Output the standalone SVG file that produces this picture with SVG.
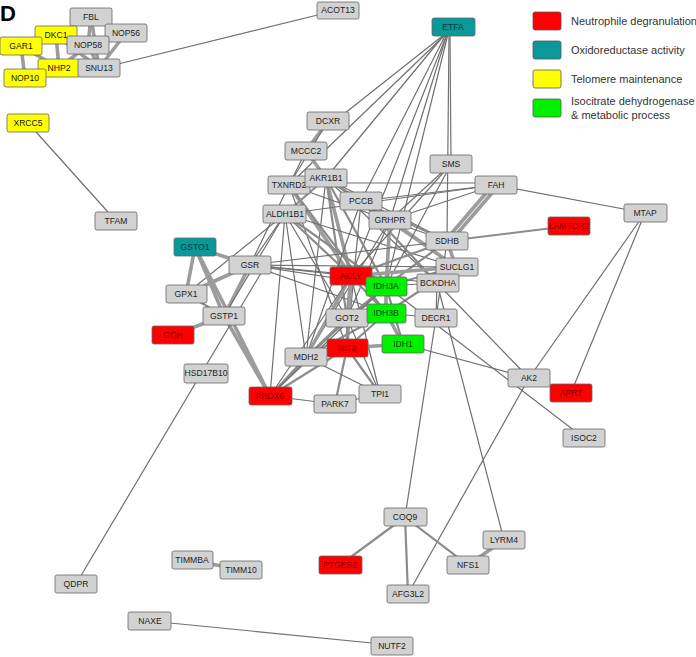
<svg xmlns="http://www.w3.org/2000/svg" width="696" height="657" viewBox="0 0 696 657">
<style>
.e line{stroke-linecap:round}
.n{stroke:#707070;stroke-width:1.2}
.m{stroke:#8c8c8c;stroke-width:2.2}
.t{stroke:#9c9c9c;stroke-width:3.6}
.node rect{stroke:#666;stroke-width:0.8}
.node text{font-family:"Liberation Sans",Arial,sans-serif;font-size:8.6px;text-anchor:middle}
.g rect{fill:#d2d2d2}.g text{fill:#222}
.r rect{fill:#ff0000}.r text{fill:#7a0000}
.c rect{fill:#0a9898}.c text{fill:#053b3b}
.y rect{fill:#ffff00}.y text{fill:#111}
.gr rect{fill:#00f000}.gr text{fill:#064006}
.lg text{font-family:"Liberation Sans",Arial,sans-serif;font-size:11px;fill:#333}
.lg rect{stroke:#555;stroke-width:0.8}
</style>
<rect width="696" height="657" fill="#fff"/>
<text x="0" y="21" font-family="Liberation Sans,Arial,sans-serif" font-size="22" font-weight="bold" fill="#000">D</text>
<g id="edges" class="e">
<!-- top-left cluster -->
<line class="t" x1="21" y1="46" x2="25" y2="78"/>
<line class="t" x1="21" y1="46" x2="56" y2="35"/>
<line class="t" x1="21" y1="46" x2="59" y2="68"/>
<line class="t" x1="56" y1="35" x2="88" y2="45"/>
<line class="t" x1="56" y1="35" x2="91" y2="17"/>
<line class="t" x1="56" y1="35" x2="59" y2="68"/>
<line class="t" x1="56" y1="35" x2="99" y2="68"/>
<line class="t" x1="91" y1="17" x2="88" y2="45"/>
<line class="t" x1="91" y1="17" x2="99" y2="68"/>
<line class="t" x1="91" y1="17" x2="126" y2="33"/>
<line class="t" x1="126" y1="33" x2="99" y2="68"/>
<line class="t" x1="88" y1="45" x2="99" y2="68"/>
<line class="t" x1="59" y1="68" x2="25" y2="78"/>
<line class="t" x1="59" y1="68" x2="99" y2="68"/>
<line class="t" x1="88" y1="45" x2="59" y2="68"/>
<line class="n" x1="110" y1="66" x2="338" y2="10"/>
<line class="n" x1="28" y1="123" x2="116" y2="221"/>
<!-- ETFA -->
<line class="n" x1="445" y1="34" x2="335" y2="121"/>
<line class="n" x1="445" y1="34" x2="326" y2="178"/>
<line class="n" x1="446" y1="34" x2="289" y2="185"/>
<line class="n" x1="446" y1="34" x2="361" y2="201"/>
<line class="n" x1="447" y1="34" x2="390" y2="220"/>
<line class="n" x1="447" y1="34" x2="351" y2="276"/>
<line class="n" x1="448" y1="34" x2="386" y2="286"/>
<line class="n" x1="449" y1="34" x2="447" y2="241"/>
<line class="n" x1="450" y1="34" x2="451" y2="164"/>
<!-- upper central -->
<line class="t" x1="328" y1="121" x2="306" y2="151"/>
<line class="n" x1="328" y1="121" x2="289" y2="185"/>
<line class="t" x1="306" y1="151" x2="326" y2="178"/>
<line class="n" x1="306" y1="151" x2="289" y2="185"/>
<line class="m" x1="326" y1="178" x2="289" y2="185"/>
<line class="n" x1="326" y1="183" x2="495" y2="183"/>
<line class="m" x1="326" y1="178" x2="361" y2="201"/>
<line class="m" x1="326" y1="178" x2="285" y2="214"/>
<line class="n" x1="326" y1="178" x2="447" y2="241"/>
<line class="m" x1="326" y1="178" x2="456" y2="267"/>
<line class="t" x1="326" y1="178" x2="351" y2="276"/>
<line class="m" x1="326" y1="178" x2="386" y2="286"/>
<line class="n" x1="326" y1="178" x2="437" y2="283"/>
<line class="n" x1="326" y1="178" x2="306" y2="357"/>
<line class="m" x1="326" y1="178" x2="347" y2="318"/>
<line class="n" x1="289" y1="185" x2="250" y2="265"/>
<line class="t" x1="289" y1="185" x2="351" y2="276"/>
<line class="m" x1="289" y1="185" x2="386" y2="313"/>
<line class="n" x1="289" y1="185" x2="447" y2="241"/>
<line class="n" x1="289" y1="185" x2="347" y2="348"/>
<line class="n" x1="285" y1="214" x2="186" y2="294"/>
<line class="n" x1="285" y1="214" x2="495" y2="185"/>
<line class="m" x1="285" y1="214" x2="351" y2="276"/>
<line class="m" x1="285" y1="214" x2="386" y2="286"/>
<line class="n" x1="285" y1="214" x2="270" y2="396"/>
<line class="n" x1="285" y1="214" x2="306" y2="357"/>
<line class="n" x1="285" y1="214" x2="347" y2="318"/>
<line class="n" x1="285" y1="214" x2="456" y2="267"/>
<line class="n" x1="361" y1="201" x2="495" y2="185"/>
<line class="m" x1="361" y1="201" x2="447" y2="241"/>
<line class="n" x1="361" y1="201" x2="456" y2="267"/>
<line class="m" x1="361" y1="201" x2="437" y2="283"/>
<line class="n" x1="361" y1="201" x2="306" y2="357"/>
<line class="n" x1="361" y1="201" x2="347" y2="348"/>
<line class="n" x1="390" y1="220" x2="451" y2="164"/>
<line class="n" x1="390" y1="220" x2="495" y2="185"/>
<line class="t" x1="390" y1="220" x2="386" y2="286"/>
<line class="t" x1="390" y1="220" x2="456" y2="267"/>
<line class="n" x1="390" y1="220" x2="347" y2="318"/>
<line class="n" x1="390" y1="220" x2="306" y2="357"/>
<line class="n" x1="451" y1="164" x2="386" y2="286"/>
<line class="n" x1="451" y1="164" x2="351" y2="276"/>
<line class="t" x1="493" y1="185" x2="445" y2="241"/>
<line class="t" x1="498" y1="186" x2="450" y2="242"/>
<line class="n" x1="495" y1="185" x2="645" y2="213"/>
<line class="m" x1="447" y1="241" x2="569" y2="226"/>
<line class="t" x1="447" y1="241" x2="456" y2="267"/>
<line class="n" x1="447" y1="241" x2="250" y2="265"/>
<line class="m" x1="447" y1="241" x2="351" y2="276"/>
<line class="m" x1="447" y1="241" x2="386" y2="286"/>
<line class="n" x1="447" y1="241" x2="436" y2="318"/>
<line class="t" x1="456" y1="267" x2="351" y2="276"/>
<line class="n" x1="456" y1="267" x2="250" y2="265"/>
<line class="m" x1="456" y1="267" x2="386" y2="286"/>
<line class="m" x1="456" y1="267" x2="386" y2="313"/>
<line class="m" x1="456" y1="267" x2="437" y2="283"/>
<!-- left group -->
<line class="t" x1="195" y1="247" x2="250" y2="265"/>
<line class="t" x1="195" y1="247" x2="186" y2="294"/>
<line class="t" x1="195" y1="247" x2="224" y2="316"/>
<line class="t" x1="195" y1="247" x2="270" y2="396"/>
<line class="t" x1="250" y1="265" x2="186" y2="294"/>
<line class="t" x1="250" y1="265" x2="224" y2="316"/>
<line class="n" x1="250" y1="265" x2="351" y2="276"/>
<line class="n" x1="250" y1="265" x2="386" y2="286"/>
<line class="n" x1="250" y1="265" x2="437" y2="283"/>
<line class="n" x1="250" y1="265" x2="386" y2="313"/>
<line class="n" x1="250" y1="265" x2="285" y2="214"/>
<line class="m" x1="186" y1="294" x2="224" y2="316"/>
<line class="t" x1="224" y1="316" x2="270" y2="396"/>
<line class="t" x1="224" y1="316" x2="173" y2="335"/>
<line class="n" x1="224" y1="316" x2="285" y2="214"/>
<line class="n" x1="76" y1="584" x2="264" y2="268"/>
<!-- core -->
<line class="t" x1="351" y1="276" x2="386" y2="286"/>
<line class="t" x1="351" y1="276" x2="306" y2="357"/>
<line class="t" x1="351" y1="276" x2="347" y2="318"/>
<line class="t" x1="351" y1="276" x2="347" y2="348"/>
<line class="m" x1="351" y1="276" x2="386" y2="313"/>
<line class="n" x1="351" y1="276" x2="270" y2="396"/>
<line class="n" x1="351" y1="276" x2="380" y2="394"/>
<line class="t" x1="386" y1="286" x2="386" y2="313"/>
<line class="n" x1="386" y1="286" x2="437" y2="283"/>
<line class="m" x1="386" y1="286" x2="403" y2="344"/>
<line class="m" x1="386" y1="286" x2="347" y2="318"/>
<line class="m" x1="386" y1="286" x2="306" y2="357"/>
<line class="n" x1="386" y1="286" x2="584" y2="438"/>
<line class="t" x1="386" y1="313" x2="403" y2="344"/>
<line class="m" x1="386" y1="313" x2="347" y2="348"/>
<line class="m" x1="386" y1="313" x2="347" y2="318"/>
<line class="m" x1="386" y1="313" x2="306" y2="357"/>
<line class="n" x1="437" y1="283" x2="436" y2="318"/>
<line class="n" x1="437" y1="283" x2="504" y2="540"/>
<line class="n" x1="437" y1="283" x2="529" y2="378"/>
<line class="n" x1="436" y1="318" x2="405" y2="517"/>
<line class="n" x1="436" y1="318" x2="386" y2="313"/>
<line class="m" x1="347" y1="318" x2="347" y2="348"/>
<line class="m" x1="347" y1="318" x2="306" y2="357"/>
<line class="t" x1="347" y1="348" x2="403" y2="344"/>
<line class="m" x1="347" y1="348" x2="306" y2="357"/>
<line class="m" x1="347" y1="348" x2="335" y2="404"/>
<line class="m" x1="347" y1="348" x2="380" y2="394"/>
<line class="m" x1="347" y1="348" x2="270" y2="396"/>
<line class="m" x1="306" y1="357" x2="270" y2="396"/>
<line class="n" x1="306" y1="357" x2="380" y2="394"/>
<line class="n" x1="347" y1="318" x2="380" y2="394"/>
<line class="n" x1="270" y1="396" x2="335" y2="404"/>
<line class="m" x1="270" y1="396" x2="347" y2="318"/>
<line class="n" x1="270" y1="396" x2="386" y2="286"/>
<line class="n" x1="335" y1="404" x2="380" y2="394"/>
<line class="n" x1="403" y1="344" x2="529" y2="378"/>
<line class="n" x1="645" y1="213" x2="529" y2="378"/>
<line class="n" x1="645" y1="213" x2="571" y2="393"/>
<line class="n" x1="529" y1="378" x2="408" y2="594"/>
<!-- bottom -->
<line class="m" x1="405" y1="517" x2="340" y2="565"/>
<line class="m" x1="405" y1="517" x2="408" y2="594"/>
<line class="m" x1="405" y1="517" x2="468" y2="565"/>
<line class="t" x1="504" y1="540" x2="468" y2="565"/>
<line class="t" x1="192" y1="560" x2="241" y2="570"/>
<line class="n" x1="150" y1="621" x2="392" y2="645"/>
</g>
<g id="nodes">
<g id="n-FBL" class="node g"><rect x="70" y="8" width="42" height="18" rx="2"/><text x="91" y="20">FBL</text></g>
<g id="n-NOP56" class="node g"><rect x="105" y="24" width="42" height="18" rx="2"/><text x="126" y="36">NOP56</text></g>
<g id="n-DKC1" class="node y"><rect x="35" y="26" width="42" height="18" rx="2"/><text x="56" y="38">DKC1</text></g>
<g id="n-GAR1" class="node y"><rect x="0" y="37" width="42" height="18" rx="2"/><text x="21" y="49">GAR1</text></g>
<g id="n-NOP58" class="node g"><rect x="67" y="36" width="42" height="18" rx="2"/><text x="88" y="48">NOP58</text></g>
<g id="n-NHP2" class="node y"><rect x="38" y="59" width="42" height="18" rx="2"/><text x="59" y="71">NHP2</text></g>
<g id="n-SNU13" class="node g"><rect x="78" y="59" width="42" height="18" rx="2"/><text x="99" y="71">SNU13</text></g>
<g id="n-NOP10" class="node y"><rect x="4" y="69" width="42" height="18" rx="2"/><text x="25" y="81">NOP10</text></g>
<g id="n-ACOT13" class="node g"><rect x="317" y="2" width="42" height="17" rx="2"/><text x="338" y="13">ACOT13</text></g>
<g id="n-ETFA" class="node c"><rect x="432" y="18" width="43" height="18" rx="2"/><text x="453" y="30">ETFA</text></g>
<g id="n-XRCC5" class="node y"><rect x="7" y="114" width="42" height="18" rx="2"/><text x="28" y="126">XRCC5</text></g>
<g id="n-TFAM" class="node g"><rect x="95" y="212" width="42" height="18" rx="2"/><text x="116" y="224">TFAM</text></g>
<g id="n-DCXR" class="node g"><rect x="307" y="112" width="42" height="18" rx="2"/><text x="328" y="124">DCXR</text></g>
<g id="n-MCCC2" class="node g"><rect x="285" y="142" width="42" height="18" rx="2"/><text x="306" y="154">MCCC2</text></g>
<g id="n-TXNRD2" class="node g"><rect x="268" y="176" width="42" height="18" rx="2"/><text x="289" y="188">TXNRD2</text></g>
<g id="n-AKR1B1" class="node g"><rect x="305" y="169" width="42" height="18" rx="2"/><text x="326" y="181">AKR1B1</text></g>
<g id="n-ALDH1B1" class="node g"><rect x="263" y="205" width="43" height="18" rx="2"/><text x="285" y="217">ALDH1B1</text></g>
<g id="n-SMS" class="node g"><rect x="430" y="155" width="42" height="18" rx="2"/><text x="451" y="167">SMS</text></g>
<g id="n-FAH" class="node g"><rect x="475" y="176" width="42" height="18" rx="2"/><text x="496" y="188">FAH</text></g>
<g id="n-PCCB" class="node g"><rect x="340" y="192" width="42" height="18" rx="2"/><text x="361" y="204">PCCB</text></g>
<g id="n-GRHPR" class="node g"><rect x="369" y="211" width="42" height="18" rx="2"/><text x="390" y="223">GRHPR</text></g>
<g id="n-SDHB" class="node g"><rect x="426" y="232" width="42" height="18" rx="2"/><text x="447" y="244">SDHB</text></g>
<g id="n-LAMTOR2" class="node r"><rect x="548" y="217" width="42" height="18" rx="2"/><text x="569" y="229">LAMTOR2</text></g>
<g id="n-MTAP" class="node g"><rect x="624" y="204" width="43" height="18" rx="2"/><text x="645" y="216">MTAP</text></g>
<g id="n-GSTO1" class="node c"><rect x="174" y="238" width="42" height="18" rx="2"/><text x="195" y="250">GSTO1</text></g>
<g id="n-GSR" class="node g"><rect x="229" y="256" width="42" height="18" rx="2"/><text x="250" y="268">GSR</text></g>
<g id="n-SUCLG1" class="node g"><rect x="436" y="258" width="42" height="18" rx="2"/><text x="457" y="270">SUCLG1</text></g>
<g id="n-ACLY" class="node r"><rect x="330" y="267" width="42" height="18" rx="2"/><text x="351" y="279">ACLY</text></g>
<g id="n-BCKDHA" class="node g"><rect x="417" y="274" width="42" height="18" rx="2"/><text x="438" y="286">BCKDHA</text></g>
<g id="n-IDH3A" class="node gr"><rect x="366" y="277" width="41" height="19" rx="2"/><text x="386" y="289">IDH3A</text></g>
<g id="n-GPX1" class="node g"><rect x="166" y="285" width="41" height="18" rx="2"/><text x="186" y="297">GPX1</text></g>
<g id="n-GSTP1" class="node g"><rect x="203" y="307" width="42" height="18" rx="2"/><text x="224" y="319">GSTP1</text></g>
<g id="n-GOT2" class="node g"><rect x="326" y="309" width="42" height="18" rx="2"/><text x="347" y="321">GOT2</text></g>
<g id="n-IDH3B" class="node gr"><rect x="367" y="304" width="39" height="19" rx="2"/><text x="386" y="316">IDH3B</text></g>
<g id="n-DECR1" class="node g"><rect x="415" y="309" width="42" height="18" rx="2"/><text x="436" y="321">DECR1</text></g>
<g id="n-GGH" class="node r"><rect x="152" y="326" width="42" height="18" rx="2"/><text x="173" y="338">GGH</text></g>
<g id="n-NIT2" class="node r"><rect x="327" y="339" width="41" height="18" rx="2"/><text x="347" y="351">NIT2</text></g>
<g id="n-IDH1" class="node gr"><rect x="382" y="335" width="42" height="18" rx="2"/><text x="403" y="347">IDH1</text></g>
<g id="n-MDH2" class="node g"><rect x="285" y="348" width="42" height="18" rx="2"/><text x="306" y="360">MDH2</text></g>
<g id="n-HSD17B10" class="node g"><rect x="184" y="364" width="44" height="19" rx="2"/><text x="206" y="376">HSD17B10</text></g>
<g id="n-AK2" class="node g"><rect x="508" y="369" width="42" height="18" rx="2"/><text x="529" y="381">AK2</text></g>
<g id="n-APRT" class="node r"><rect x="550" y="384" width="42" height="18" rx="2"/><text x="571" y="396">APRT</text></g>
<g id="n-TPI1" class="node g"><rect x="359" y="385" width="42" height="18" rx="2"/><text x="380" y="397">TPI1</text></g>
<g id="n-PRDX6" class="node r"><rect x="249" y="387" width="43" height="18" rx="2"/><text x="270" y="399">PRDX6</text></g>
<g id="n-PARK7" class="node g"><rect x="314" y="395" width="42" height="18" rx="2"/><text x="335" y="407">PARK7</text></g>
<g id="n-ISOC2" class="node g"><rect x="563" y="429" width="42" height="18" rx="2"/><text x="584" y="441">ISOC2</text></g>
<g id="n-COQ9" class="node g"><rect x="384" y="508" width="43" height="18" rx="2"/><text x="405" y="520">COQ9</text></g>
<g id="n-LYRM4" class="node g"><rect x="483" y="531" width="42" height="18" rx="2"/><text x="504" y="543">LYRM4</text></g>
<g id="n-PTGES2" class="node r"><rect x="319" y="556" width="43" height="18" rx="2"/><text x="340" y="568">PTGES2</text></g>
<g id="n-NFS1" class="node g"><rect x="447" y="556" width="42" height="18" rx="2"/><text x="468" y="568">NFS1</text></g>
<g id="n-TIMMBA" class="node g"><rect x="172" y="551" width="41" height="18" rx="2"/><text x="192" y="563">TIMMBA</text></g>
<g id="n-TIMM10" class="node g"><rect x="220" y="561" width="42" height="18" rx="2"/><text x="241" y="573">TIMM10</text></g>
<g id="n-QDPR" class="node g"><rect x="55" y="575" width="42" height="18" rx="2"/><text x="76" y="587">QDPR</text></g>
<g id="n-AFG3L2" class="node g"><rect x="387" y="585" width="42" height="18" rx="2"/><text x="408" y="597">AFG3L2</text></g>
<g id="n-NAXE" class="node g"><rect x="128" y="612" width="43" height="18" rx="2"/><text x="150" y="624">NAXE</text></g>
<g id="n-NUTF2" class="node g"><rect x="371" y="637" width="42" height="18" rx="2"/><text x="392" y="649">NUTF2</text></g>
</g>
<g id="legend" class="lg">
<rect x="533" y="12" width="28" height="18" rx="2" fill="#ff0000"/>
<text x="571" y="25">Neutrophile degranulation</text>
<rect x="533" y="41" width="28" height="18" rx="2" fill="#0a9898"/>
<text x="571" y="54">Oxidoreductase activity</text>
<rect x="533" y="70" width="28" height="18" rx="2" fill="#ffff00"/>
<text x="571" y="83">Telomere maintenance</text>
<rect x="533" y="99" width="28" height="18" rx="2" fill="#00f000"/>
<text x="571" y="105">Isocitrate dehydrogenase</text>
<text x="571" y="119">&amp; metabolic process</text>
</g>
</svg>
